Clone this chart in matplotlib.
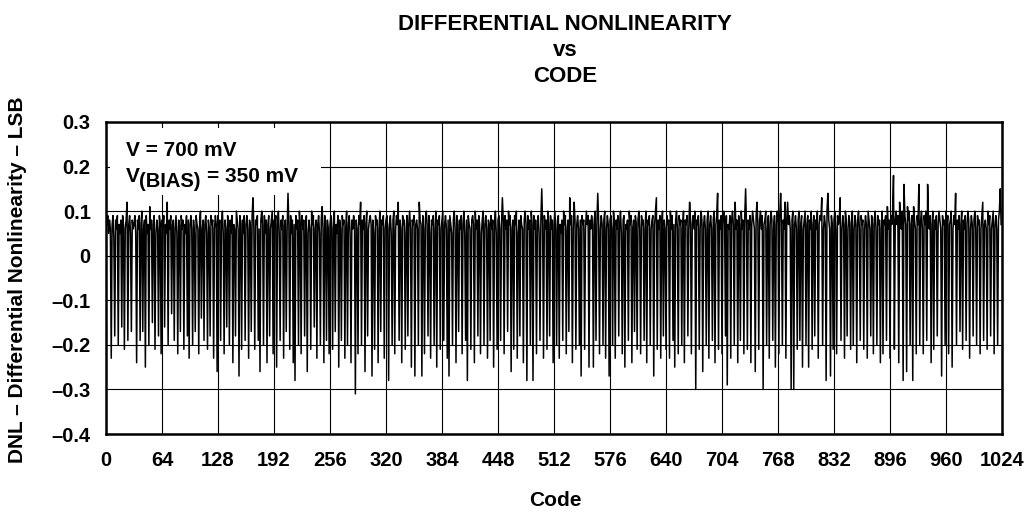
import matplotlib
matplotlib.use("Agg")
import matplotlib.pyplot as plt
import numpy as np
from matplotlib.patches import Rectangle

plt.rcParams['font.family'] = ['Liberation Sans', 'DejaVu Sans']
plt.rcParams['font.weight'] = 'bold'

# ---- data (DNL in LSB, codes 0..1023) ----
dnl_rows = [
    [.10,.07,.09,.05,.08,.06,-.23,.07,.09,.04,-.18,.08,.06,.09,-.20,.07,.05,.08,-.16,.09,.07,-.21,.06,.08,.12,-.19,.07,.09,.05,-.17,.08,.06],
    [.07,.09,.05,-.24,.08,.06,.09,-.19,.07,.10,-.17,.06,.08,-.25,.09,.05,.07,-.20,.11,.06,.08,-.15,.07,.09,-.21,.05,.08,.06,-.18,.09,.07,-.22],
    [.08,.06,.09,-.16,.07,.05,.12,-.20,.08,.06,.09,-.13,.07,.08,-.19,.06,.09,.05,-.22,.08,.07,-.17,.09,.06,.08,-.21,.07,.05,.09,-.18,.08,-.23],
    [.07,.09,.06,-.20,.08,.05,-.17,.09,.07,.06,-.22,.08,.10,-.14,.06,.08,-.19,.07,.09,.05,-.21,.08,.06,-.18,.09,.07,.08,-.23,.06,.09,.07,-.26],
    [.09,.06,.08,-.19,.07,.10,.05,-.22,.08,.06,-.16,.09,.07,-.20,.08,.05,.09,-.24,.07,.06,-.18,.10,.08,.06,-.27,.09,.07,-.21,.08,.05,.09,-.19],
    [.07,.09,.06,-.23,.08,.07,-.17,.09,.13,.06,-.21,.08,.07,.09,-.19,.06,-.26,.08,.10,.07,-.20,.09,.05,.08,-.24,.07,.09,-.18,.06,.08,.10,-.22],
    [.08,.06,.09,-.25,.07,.10,.05,-.19,.08,.06,.09,-.23,.07,.08,-.17,.06,.14,.07,-.21,.09,.05,.08,-.24,.07,-.28,.09,.06,.08,-.20,.10,.07,-.22],
    [.09,.06,.08,-.18,.07,.09,-.26,.05,.08,.06,-.21,.10,.07,.09,-.16,.06,.08,-.23,.07,.09,.05,-.20,.08,.11,.06,-.24,.09,.07,-.19,.08,.06,-.22],
    [.07,.09,.06,-.21,.08,.10,-.17,.07,.05,.09,-.25,.08,.06,-.19,.09,.07,.08,-.23,.06,.10,-.20,.07,.09,.05,-.24,.08,.06,.09,.07,-.31,.08,.06],
    [-.22,.09,.07,.12,-.20,.08,.06,.09,-.26,.07,.10,-.18,.06,.08,.09,.07,-.27,.08,.05,-.21,.09,.07,.08,-.24,.06,.10,-.17,.08,.07,.09,-.23,.06],
    [.08,.09,.06,-.28,.07,.09,.05,-.20,.08,.10,-.22,.06,.09,.07,.12,-.19,.08,.06,-.24,.09,.07,.08,-.21,.05,.09,-.18,.07,.10,.06,-.25,.08,.07],
    [.09,-.27,.07,.08,.06,-.20,.12,.08,.07,-.27,.09,.06,-.22,.08,.10,.07,-.18,.09,.05,-.23,.08,.07,.09,-.20,.06,.10,-.25,.08,.07,.09,-.21,.06],
    [.08,.10,-.19,.07,.09,.06,-.23,.08,-.27,.09,.07,.05,-.20,.08,.10,.06,-.24,.09,.07,-.17,.08,.06,.09,-.22,.07,.10,.05,-.19,.08,-.28,.09,.07],
    [.06,-.21,.08,.09,.07,-.24,.10,.06,.08,-.18,.09,.07,-.22,.05,.08,.10,-.20,.07,.09,.06,-.23,.08,.07,-.19,.09,.06,.08,-.25,.07,.10,.05,-.21],
    [.08,.09,.06,-.19,.07,.13,.08,-.22,.09,.06,.08,-.17,.10,.07,.09,-.26,.06,.08,-.21,.09,.07,.10,-.23,.05,.08,-.18,.09,.07,.06,-.24,.08,.10],
    [.07,-.28,.09,.06,.08,-.20,.10,.07,-.28,.09,.06,.08,-.22,.07,.09,.05,-.19,.08,.15,.07,-.23,.09,.06,.08,-.21,.10,.07,-.18,.09,.06,.08,-.24],
    [.07,.10,.06,-.20,.08,.09,-.23,.07,.05,.08,-.19,.10,.07,.09,-.22,.06,.08,-.17,.13,.07,.09,-.24,.06,.12,.08,-.21,.07,.09,.06,-.20,.08,-.27],
    [.09,.07,.08,-.21,.06,.10,.07,.09,-.25,.08,.06,.09,.07,-.25,.08,.10,-.19,.07,.14,.08,-.22,.06,.09,.07,-.20,.08,.10,-.23,.06,.09,.07,-.27],
    [.08,.09,.06,-.20,.10,.07,-.23,.08,.06,.09,-.18,.07,.10,.05,-.22,.08,.09,-.25,.07,.06,.08,-.19,.10,.07,.09,-.24,.06,.08,-.17,.09,.07,-.21],
    [.08,.10,.06,-.22,.09,.07,.08,-.19,.06,.10,-.24,.08,.07,.09,-.20,.06,.08,.09,-.27,.07,.10,.13,-.21,.08,.06,.09,-.23,.07,.10,-.18,.08,.06],
    [-.21,.09,.07,.08,-.23,.10,.06,.09,-.19,.07,-.25,.08,.10,.06,-.22,.09,.07,.08,-.20,.06,.10,-.24,.08,.07,.09,-.18,.06,.12,.08,-.22,.07,.09],
    [.06,.10,-.30,.08,.07,.09,-.21,.06,.10,.08,-.26,.07,.09,.06,-.20,.08,.10,-.23,.07,.09,.06,-.19,.08,.10,-.24,.07,.09,.14,-.21,.08,.06,.09],
    [-.22,.07,.10,.08,-.18,.09,-.29,.07,.06,.09,-.23,.08,.10,.07,-.20,.12,.06,.08,-.24,.09,.07,-.19,.10,.06,.08,-.22,.09,.15,.07,-.21,.08,.06],
    [.09,-.24,.07,.10,.08,.06,-.26,.09,.12,.07,-.21,.08,.10,.06,.09,-.30,.07,.08,.10,-.20,.06,.09,-.23,.07,.10,.08,-.19,.06,.09,-.25,.07,.10],
    [.08,-.22,.09,.14,.07,-.20,.08,.06,.12,-.23,.08,.12,.07,.09,.06,-.30,.08,.10,-.30,.07,.09,.06,-.21,.08,.10,-.19,.07,.09,-.25,.06,.08,.10],
    [-.20,.07,.09,-.25,.08,.06,.10,-.21,.07,.09,-.18,.08,.06,.10,-.23,.07,.09,.08,.13,-.20,.06,.09,.07,-.28,.10,.14,.08,.06,-.27,.09,.07,-.21],
    [.08,.10,.06,-.22,.09,.07,.08,.13,-.19,.06,.09,.07,-.23,.10,.08,-.18,.06,.09,.07,-.21,.08,.10,-.20,.06,.09,.07,-.24,.08,.10,.06,-.19,.09],
    [.07,.08,-.21,.06,.09,.07,-.23,.10,.08,.06,-.18,.09,.07,-.22,.08,.10,.06,-.20,.09,.07,.08,-.24,.06,.10,-.22,.08,.07,.09,-.19,.11,.06,.08],
    [-.23,.09,.07,.10,.18,-.21,.08,.10,.07,.09,-.24,.12,.08,.06,.10,-.28,.16,.09,.07,-.26,.11,.08,.10,-.20,.07,.09,-.28,.11,.08,.06,-.22,.09],
    [.07,.16,-.20,.08,.10,.06,-.22,.09,.07,.10,-.19,.16,.08,.06,.09,-.24,.07,.10,-.21,.08,.06,.09,-.18,.07,.10,.08,.06,-.27,.09,.07,.08,-.20],
    [.10,.06,.09,-.22,.07,.08,.10,-.25,.06,.09,.07,.14,-.20,.08,.06,.09,-.17,.07,.10,-.21,.08,.06,.09,-.19,.07,.10,.08,-.23,.06,.09,.07,-.18],
    [.08,.10,.06,-.20,.09,.07,.08,-.22,.06,.09,.12,-.19,.07,.08,.06,-.21,.10,.07,.09,-.18,.06,.08,.10,-.22,.07,.09,.06,-.20,.08,.10,.15,.07],
]
dnl = [v for row in dnl_rows for v in row]
codes = np.arange(len(dnl))

x_ticks = [0, 64, 128, 192, 256, 320, 384, 448, 512, 576, 640, 704, 768, 832, 896, 960, 1024]
y_ticks = [0.3, 0.2, 0.1, 0.0, -0.1, -0.2, -0.3, -0.4]
y_tick_labels = ['0.3', '0.2', '0.1', '0', '\u20130.1', '\u20130.2', '\u20130.3', '\u20130.4']

title_text = "DIFFERENTIAL NONLINEARITY\nvs\nCODE"
x_label = "Code"
y_label = "DNL \u2013 Differential Nonlinearity \u2013 LSB"

W, H = 1032, 512
fig = plt.figure(figsize=(W / 100, H / 100), dpi=100)
L, R, T, B = 106, 1002, 122, 434
ax = fig.add_axes([L / W, 1 - B / H, (R - L) / W, (B - T) / H])

ax.plot(codes, dnl, color='black', lw=1.1, zorder=3)

ax.set_xlim(0, 1024)
ax.set_ylim(-0.4, 0.3)
ax.set_xticks(x_ticks)
ax.set_xticklabels([str(t) for t in x_ticks])
ax.set_yticks(y_ticks)
ax.set_yticklabels(y_tick_labels)
ax.tick_params(axis='both', length=0, labelsize=14.5)
ax.tick_params(axis='y', pad=11)
ax.tick_params(axis='x', pad=12)
for lab in ax.get_xticklabels() + ax.get_yticklabels():
    lab.set_fontweight('bold')

ax.grid(True, color='black', lw=0.8, zorder=1)
ax.set_axisbelow(True)
for s in ax.spines.values():
    s.set_linewidth(1.8)
    s.set_zorder(4)

# white box behind the annotation
ax.add_patch(Rectangle((0.005, 0.765), 0.235, 0.216, transform=ax.transAxes,
                       facecolor='white', edgecolor='none', zorder=2))

fs = 15
fig.text(126 / W, 1 - 156 / H, "V = 700 mV", fontsize=fs, fontweight='bold',
         ha='left', va='baseline', zorder=5)
fig.text(126 / W, 1 - 182 / H, "V", fontsize=fs, fontweight='bold',
         ha='left', va='baseline', zorder=5)
fig.text(139 / W, 1 - 187 / H, "(BIAS)", fontsize=14.5, fontweight='bold',
         ha='left', va='baseline', zorder=5)
fig.text(207 / W, 1 - 182 / H, "= 350 mV", fontsize=fs, fontweight='bold',
         ha='left', va='baseline', zorder=5)

fig.text(565 / W, 1 - 14 / H, title_text, fontsize=16, fontweight='bold',
         ha='center', va='top', linespacing=1.3)
fig.text(555 / W, 1 - 500 / H, x_label, fontsize=15, fontweight='bold',
         ha='center', va='center')
fig.text(18 / W, 1 - 280 / H, y_label, fontsize=15, fontweight='bold',
         ha='center', va='center', rotation=90)

fig.savefig("out.png", dpi=100)
